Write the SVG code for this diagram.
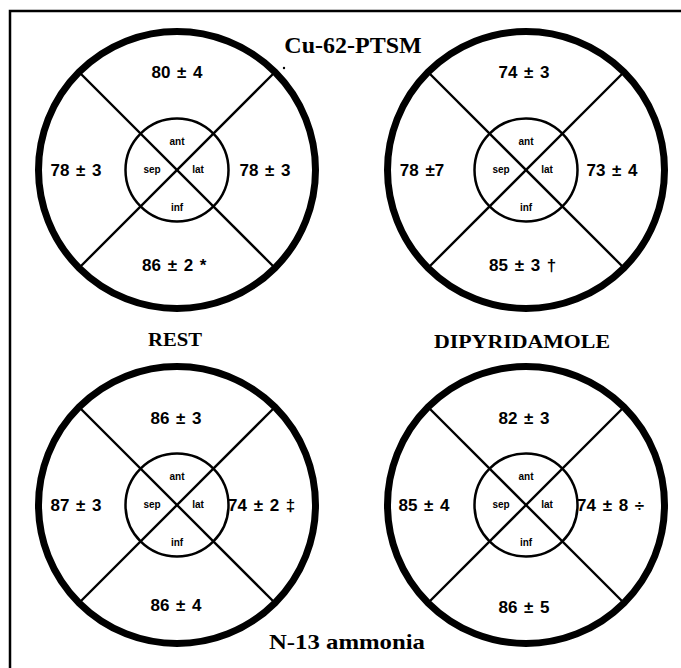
<svg xmlns="http://www.w3.org/2000/svg" width="681" height="668" viewBox="0 0 681 668">
<style>
.outer{fill:none;stroke:#000;stroke-width:7}
.inner{fill:none;stroke:#000;stroke-width:2.5}
.div{stroke:#000;stroke-width:2.4}
.val{font-family:"Liberation Sans",Arial,sans-serif;font-weight:bold;font-size:17px;word-spacing:2px;fill:#000}
.lbl{font-family:"Liberation Sans",Arial,sans-serif;font-weight:bold;font-size:10px;fill:#000;text-anchor:middle}
.title{font-family:"Liberation Serif","Times New Roman",serif;font-weight:bold;fill:#000;text-anchor:middle}
</style>
<defs>
<g id="plot">
<circle cx="0" cy="0" r="138.5" class="outer"/>
<line x1="-96" y1="-96" x2="96" y2="96" class="div"/>
<line x1="96" y1="-96" x2="-96" y2="96" class="div"/>
<circle cx="0" cy="0" r="51.5" class="inner"/>
<text x="0" y="-25" class="lbl">ant</text>
<text x="-25" y="3" class="lbl">sep</text>
<text x="21" y="3" class="lbl">lat</text>
<text x="0" y="41" class="lbl">inf</text>
</g>
</defs>
<path d="M10,668 V11 H681" fill="none" stroke="#000" stroke-width="2.5"/>
<text x="353" y="53" class="title" font-size="24">Cu-62-PTSM</text>
<circle cx="284" cy="68" r="1.2" fill="#000"/>
<text x="175" y="346" class="title" font-size="19" textLength="54" lengthAdjust="spacingAndGlyphs">REST</text>
<text x="522" y="348" class="title" font-size="18" textLength="176" lengthAdjust="spacingAndGlyphs">DIPYRIDAMOLE</text>
<text x="347" y="649" class="title" font-size="22" textLength="156" lengthAdjust="spacingAndGlyphs">N-13 ammonia</text>

<g id="cu-rest">
<use href="#plot" x="177" y="170"/>
<text x="177" y="78" class="val" text-anchor="middle">80 ± 4</text>
<text x="76" y="176" class="val" text-anchor="middle">78 ± 3</text>
<text x="265" y="176" class="val" text-anchor="middle">78 ± 3</text>
<text x="142" y="271" class="val">86 ± 2 *</text>
</g>
<g id="cu-dipyridamole">
<use href="#plot" x="526" y="170"/>
<text x="524" y="78" class="val" text-anchor="middle">74 ± 3</text>
<text x="422" y="176" class="val" text-anchor="middle">78 ±7</text>
<text x="612" y="176" class="val" text-anchor="middle">73 ± 4</text>
<text x="489" y="271" class="val">85 ± 3 †</text>
</g>
<g id="n13-rest">
<use href="#plot" x="177" y="505"/>
<text x="176" y="424" class="val" text-anchor="middle">86 ± 3</text>
<text x="76" y="511" class="val" text-anchor="middle">87 ± 3</text>
<text x="228" y="511" class="val">74 ± 2 ‡</text>
<text x="176" y="611" class="val" text-anchor="middle">86 ± 4</text>
</g>
<g id="n13-dipyridamole">
<use href="#plot" x="526" y="505"/>
<text x="524" y="424" class="val" text-anchor="middle">82 ± 3</text>
<text x="424" y="511" class="val" text-anchor="middle">85 ± 4</text>
<text x="577" y="511" class="val">74 ± 8 ÷</text>
<text x="524" y="613" class="val" text-anchor="middle">86 ± 5</text>
</g>
</svg>
